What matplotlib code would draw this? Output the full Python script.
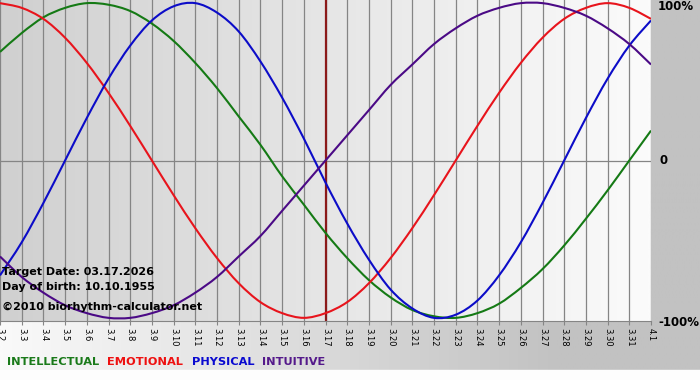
import numpy as np
import matplotlib
matplotlib.use('Agg')
import matplotlib.pyplot as plt
from matplotlib.colors import LinearSegmentedColormap
from matplotlib.path import Path
from matplotlib.patches import PathPatch

# day labels 3.2 ... 3.31, 4.1
days = ['3.%d' % d for d in range(2, 32)] + ['4.1']

# values (-1 .. 1)
physical = [-0.73, -0.52, -0.27, 0.00, 0.27, 0.52, 0.73, 0.89, 0.98, 1.00,
            0.94, 0.82, 0.63, 0.40, 0.14, -0.14, -0.40, -0.63, -0.82, -0.94,
            -1.00, -0.98, -0.89, -0.73, -0.52, -0.27, 0.00, 0.27, 0.52, 0.73, 0.89]
emotional = [1.00, 0.97, 0.90, 0.78, 0.62, 0.43, 0.22, 0.00, -0.22, -0.43,
             -0.62, -0.78, -0.90, -0.97, -1.00, -0.97, -0.90, -0.78, -0.62, -0.43,
             -0.22, 0.00, 0.22, 0.43, 0.62, 0.78, 0.90, 0.97, 1.00, 0.97, 0.90]
intellectual = [0.69, 0.81, 0.91, 0.97, 1.00, 0.99, 0.95, 0.87, 0.76, 0.62,
                0.46, 0.28, 0.10, -0.10, -0.28, -0.46, -0.62, -0.76, -0.87, -0.95,
                -0.99, -1.00, -0.97, -0.91, -0.81, -0.69, -0.54, -0.37, -0.19, 0.00, 0.19]
intuitive = [-0.61, -0.74, -0.84, -0.92, -0.97, -1.00, -1.00, -0.97, -0.92, -0.84,
             -0.74, -0.61, -0.48, -0.32, -0.16, 0.00, 0.16, 0.32, 0.48, 0.61,
             0.74, 0.84, 0.92, 0.97, 1.00, 1.00, 0.97, 0.92, 0.84, 0.74, 0.61]
target_idx = days.index('3.17')


def smooth_line(ax, xs, ys, color):
    # draw the daily points as a smooth (catmull-rom style) bezier curve
    p = np.column_stack([xs, ys]).astype(float)
    pp = np.vstack([p[0], p, p[-1]])
    verts = [p[0]]
    codes = [Path.MOVETO]
    for i in range(len(p) - 1):
        p0, p1, p2, p3 = pp[i], pp[i + 1], pp[i + 2], pp[i + 3]
        verts += [p1 + (p2 - p0) / 6, p2 - (p3 - p1) / 6, p2]
        codes += [Path.CURVE4] * 3
    ax.add_patch(PathPatch(Path(verts, codes), fill=False, edgecolor=color,
                           lw=1.5, zorder=3))


W, H = 700, 380
fig = plt.figure(figsize=(7, 3.8), dpi=100)

# figure background: white -> gray, white strip at very bottom
bg = fig.add_axes([0, 0, 1, 1], zorder=0)
bg_cmap = LinearSegmentedColormap.from_list('bg', ['#fafafa', '#c2c2c2'])
grad = np.clip(np.linspace(0, 1.25, 400), 0, 1)
bg.imshow(grad[None, :], cmap=bg_cmap, aspect='auto', extent=[0, W, H - 370, H])
bg.axhspan(0, H - 370, color='#fdfdfd')
bg.set_xlim(0, W)
bg.set_ylim(0, H)
bg.axis('off')

# plot area
ax = fig.add_axes([0, 1 - 321 / H, 651 / W, 321 / H], zorder=1)
x = np.arange(len(days))
plot_cmap = LinearSegmentedColormap.from_list('pa', ['#d0d0d0', '#e6e6e6', '#fbfbfb'])
ax.imshow(np.linspace(0, 1, 300)[None, :], cmap=plot_cmap, aspect='auto',
          extent=[0, len(days) - 1, -1.02, 1.02], zorder=0)

for xi in x:
    ax.axvline(xi, color='#858585', lw=0.9, zorder=1)
ax.axhline(0, color='#858585', lw=0.9, zorder=1)
ax.axvline(target_idx, color='#8b1a1a', lw=1.6, zorder=2)

smooth_line(ax, x, intellectual, '#157a15')
smooth_line(ax, x, emotional, '#e8141c')
smooth_line(ax, x, physical, '#0c0cc8')
smooth_line(ax, x, intuitive, '#4b0a86')

ax.set_xlim(0, len(days) - 1)
ax.set_ylim(-1.02, 1.02)
ax.set_xticks(x)
ax.set_xticklabels(days, rotation=-90, fontsize=6, va='top', ha='center')
ax.tick_params(axis='x', length=3, color='#858585', pad=2)
ax.set_yticks([])
for s in ['top', 'left', 'right']:
    ax.spines[s].set_visible(False)
ax.spines['bottom'].set_color('#858585')

# info text
info = ['Target Date: 03.17.2026', 'Day of birth: 10.10.1955',
        '\u00a92010 biorhythm-calculator.net']
for txt, py in zip(info, [272, 287, 307]):
    fig.text(2 / W, 1 - py / H, txt, fontsize=8, fontweight='bold',
             va='center', zorder=5)

# right side labels
fig.text(658 / W, 1 - 7 / H, '100%', fontsize=8.5, fontweight='bold', va='center')
fig.text(659 / W, 1 - 161 / H, '0', fontsize=8.5, fontweight='bold', va='center')
fig.text(658 / W, 1 - 322 / H, '-100%', fontsize=8.5, fontweight='bold', va='center')

# legend words
legend = [('INTELLECTUAL', 7, '#1a7a1a'), ('EMOTIONAL', 107, '#ee1111'),
          ('PHYSICAL', 192, '#0a0ad0'), ('INTUITIVE', 262, '#551a8b')]
for word, px, col in legend:
    fig.text(px / W, 1 - 362 / H, word, fontsize=8.2, fontweight='bold',
             color=col, va='center')

fig.savefig('out.png', dpi=100)
